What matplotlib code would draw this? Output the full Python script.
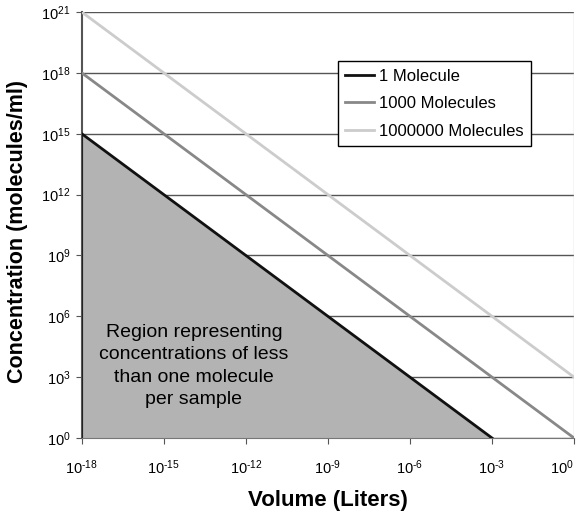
import matplotlib
matplotlib.use("Agg")
import matplotlib.pyplot as plt
from matplotlib.ticker import FixedLocator, FixedFormatter

# concentration (molecules/ml) at the endpoints of each line
one_mol_v = [1e-18, 1e-3]
one_mol_c = [1e15, 1e0]
k_mol_v = [1e-18, 1e0]
k_mol_c = [1e18, 1e0]
m_mol_v = [1e-18, 1e0]
m_mol_c = [1e21, 1e3]

x_ticks = [1e-18, 1e-15, 1e-12, 1e-9, 1e-6, 1e-3, 1e0]
x_labels = [r"10$^{\text{-18}}$", r"10$^{\text{-15}}$", r"10$^{\text{-12}}$", r"10$^{\text{-9}}$",
            r"10$^{\text{-6}}$", r"10$^{\text{-3}}$", r"10$^{\text{0}}$"]
y_ticks = [1e0, 1e3, 1e6, 1e9, 1e12, 1e15, 1e18, 1e21]
y_labels = [r"10$^{\text{0}}$", r"10$^{\text{3}}$", r"10$^{\text{6}}$", r"10$^{\text{9}}$",
            r"10$^{\text{12}}$", r"10$^{\text{15}}$", r"10$^{\text{18}}$", r"10$^{\text{21}}$"]

plt.rcParams['font.family'] = ['Liberation Sans', 'DejaVu Sans']
plt.rcParams['mathtext.fontset'] = 'custom'
plt.rcParams['mathtext.rm'] = 'Liberation Sans'
plt.rcParams['mathtext.it'] = 'Liberation Sans'

fig = plt.figure(figsize=(5.84, 5.12), dpi=100)
ax = fig.add_axes([0.140, 0.1445, 0.843, 0.832])
ax.set_xscale('log')
ax.set_yscale('log')
ax.set_xlim(1e-18, 1e0)
ax.set_ylim(1e0, 1e21)

for y in y_ticks:
    ax.axhline(y, color='#555555', lw=1.0, zorder=1)
ax.axvline(1e0, color='#cccccc', lw=1.0, zorder=1)

ax.fill_between(one_mol_v, [1e0, 1e0], one_mol_c, color='#b3b3b3', zorder=2, lw=0)
ax.plot([1e-18, 1e-18], [1e0, 1e15], color='#222222', lw=1.5, zorder=3)

ax.plot(one_mol_v, one_mol_c, color='#111111', lw=2, label='1 Molecule', zorder=4)
ax.plot(k_mol_v, k_mol_c, color='#888888', lw=2, label='1000 Molecules', zorder=4)
ax.plot(m_mol_v, m_mol_c, color='#cccccc', lw=2, label='1000000 Molecules', zorder=4)

ax.text(10**-13.9, 10**3.55, "Region representing\nconcentrations of less\nthan one molecule\nper sample",
        ha='center', va='center', fontsize=14, linespacing=1.4, zorder=5)

ax.xaxis.set_major_locator(FixedLocator(x_ticks))
ax.xaxis.set_major_formatter(FixedFormatter(x_labels))
ax.yaxis.set_major_locator(FixedLocator(y_ticks))
ax.yaxis.set_major_formatter(FixedFormatter(y_labels))
ax.xaxis.set_minor_locator(FixedLocator([]))
ax.yaxis.set_minor_locator(FixedLocator([]))
ax.tick_params(axis='both', labelsize=10.5, length=4, color='#555555', direction='out')
ax.tick_params(axis='x', pad=11)
ax.tick_params(axis='y', pad=4)
ax.get_xticklabels()[-1].set_horizontalalignment('right')

for s in ['top', 'right']:
    ax.spines[s].set_visible(False)
ax.spines['left'].set_color('#555555')
ax.spines['bottom'].set_color('#777777')
ax.spines['left'].set_linewidth(1.5)

ax.set_xlabel('Volume (Liters)', fontsize=16, fontweight='bold', labelpad=9)
ax.set_ylabel('Concentration (molecules/ml)', fontsize=15.5, fontweight='bold')
ax.yaxis.set_label_coords(-0.11, 0.485)

leg = ax.legend(loc='upper left', bbox_to_anchor=(0.52, 0.885), borderaxespad=0,
                fontsize=12, frameon=True,
                fancybox=False, edgecolor='black', framealpha=1, borderpad=0.45,
                handlelength=1.7, handletextpad=0.3, labelspacing=0.75)
leg.get_frame().set_linewidth(1.0)

fig.savefig('out.png', dpi=100)
